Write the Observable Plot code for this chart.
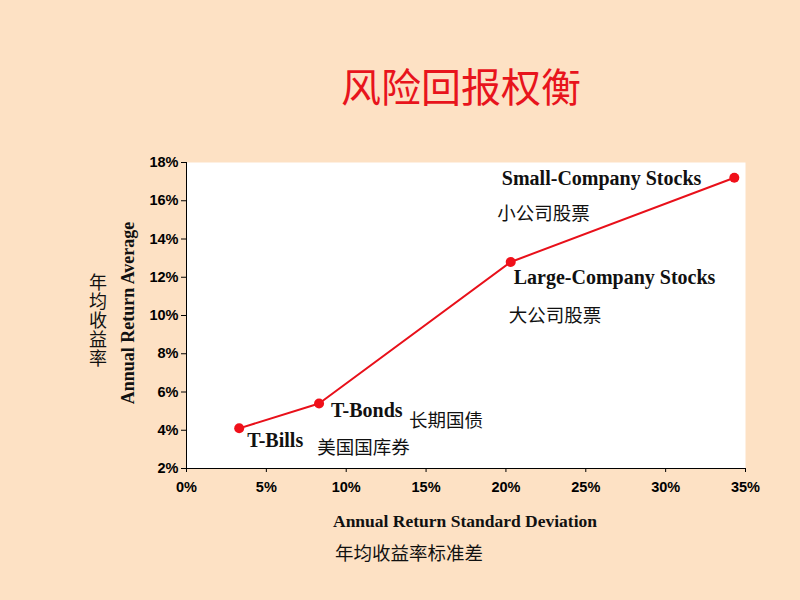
<!DOCTYPE html>
<html><head><meta charset="utf-8">
<script src="https://cdn.jsdelivr.net/npm/d3@7"></script>
<script src="https://cdn.jsdelivr.net/npm/@observablehq/plot@0.6"></script>
<style>
html,body{margin:0;padding:0;background:#FDE1C4;}
#wrap{position:relative;width:800px;height:600px;overflow:hidden;background:#FDE1C4;}
#wrap svg{position:absolute;left:0;top:0;}
.t{position:absolute;white-space:nowrap;}
.c{transform:translate(-50%,-50%);}
.cjk{font-family:"Noto Sans CJK SC",sans-serif;}
.ser{font-family:"Liberation Serif","Times New Roman",serif;font-weight:bold;color:#111;}
</style></head>
<body><div id="wrap">
<div class="t c cjk" style="left:461px;top:85px;font-size:40px;color:#E8141C;">风险回报权衡</div>
<div class="t c ser" style="left:465px;top:521px;font-size:17.5px;">Annual Return Standard Deviation</div>
<div class="t cjk" style="left:335px;top:539px;font-size:18.5px;color:#111;">年均收益率标准差</div>
<div class="t c ser" style="left:128px;top:313px;font-size:18px;transform:translate(-50%,-50%) rotate(-90deg);">Annual Return Average</div>
<div class="t cjk" style="left:89px;top:272px;font-size:18px;line-height:19px;color:#111;white-space:normal;width:19px;">年均收益率</div>
</div>
<script>
const names = ["T-Bills", "T-Bonds", "Large-Company Stocks", "Small-Company Stocks"];
const namesCN = ["美国国库券", "长期国债", "大公司股票", "小公司股票"];
const stdDev = [3.3, 8.3, 20.3, 34.3];
const avgReturn = [4.1, 5.4, 12.8, 17.2];
const xTicks = [0, 5, 10, 15, 20, 25, 30, 35];
const yTicks = [2, 4, 6, 8, 10, 12, 14, 16, 18];

const data = names.map((n, i) => ({name: n, cn: namesCN[i], x: stdDev[i], y: avgReturn[i]}));
const pick = n => data.filter(d => d.name === n);
const serif = "Liberation Serif, Times New Roman, serif";
const cjk = "Noto Sans CJK SC, sans-serif";
const lab = (n, dx, dy, anchor) => Plot.text(pick(n), {x: "x", y: "y", text: "name", dx, dy, textAnchor: anchor, fontFamily: serif, fontWeight: "bold", fontSize: 20, fill: "#111"});
const labCN = (n, dx, dy) => Plot.text(pick(n), {x: "x", y: "y", text: "cn", dx, dy, textAnchor: "start", fontFamily: cjk, fontSize: 18.5, fill: "#111"});

const chart = Plot.plot({
  width: 800, height: 600,
  marginLeft: 186, marginRight: 55, marginTop: 162, marginBottom: 132,
  style: {background: "transparent", fontFamily: "Liberation Sans, Arial, sans-serif", color: "#000"},
  x: {domain: [0, 35]},
  y: {domain: [2, 18]},
  marks: [
    Plot.frame({fill: "white", stroke: null}),
    Plot.axisX({ticks: xTicks, tickFormat: d => d + "%", tickSize: 4, tickPadding: 9, fontSize: 14.5, fontWeight: "bold", label: null}),
    Plot.axisY({ticks: yTicks, tickFormat: d => d + "%", tickSize: 5, tickPadding: 3, fontSize: 14.5, fontWeight: "bold", label: null}),
    Plot.ruleX([0], {stroke: "#000"}),
    Plot.ruleY([2], {stroke: "#000"}),
    Plot.line(data, {x: "x", y: "y", stroke: "#E8101A", strokeWidth: 2}),
    Plot.dot(data, {x: "x", y: "y", r: 5, fill: "#F0101A"}),
    lab("T-Bills", 8, 12, "start"),
    labCN("T-Bills", 78, 20),
    lab("T-Bonds", 12, 7, "start"),
    labCN("T-Bonds", 90, 18),
    lab("Large-Company Stocks", 3, 16, "start"),
    labCN("Large-Company Stocks", -2, 54),
    lab("Small-Company Stocks", -33, 1, "end"),
    labCN("Small-Company Stocks", -237, 36)
  ]
});
document.getElementById("wrap").prepend(chart);
</script>
</body></html>
